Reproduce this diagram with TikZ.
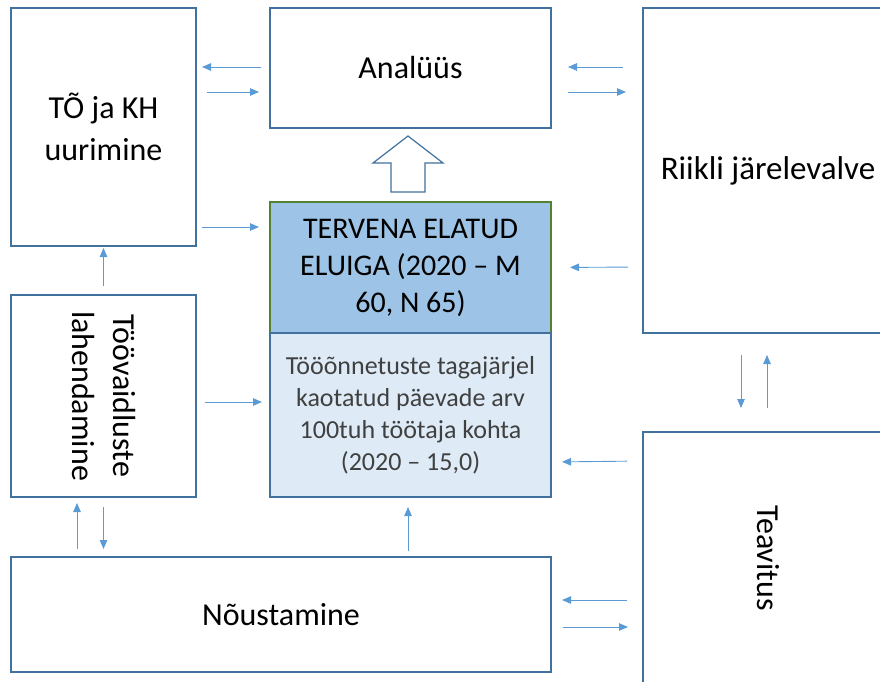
\documentclass[tikz,border=0pt]{standalone}
\usepackage{fontspec}
\setmainfont{Carlito}
\usetikzlibrary{positioning, arrows.meta}
\definecolor{boxblue}{RGB}{65,113,156}
\definecolor{flowblue}{RGB}{91,155,213}
\definecolor{goalfill}{RGB}{157,195,230}
\definecolor{goalline}{RGB}{84,130,53}
\definecolor{measfill}{RGB}{222,235,247}
\tikzset{
    boxed/.style={draw=boxblue, line width=1.2pt, fill=white, rectangle, align=center, inner sep=2pt, outer sep=0pt, font=\fontsize{32}{42}\selectfont},
    goal/.style={boxed, draw=goalline, fill=goalfill, font=\fontsize{30}{37}\selectfont},
    measure/.style={boxed, fill=measfill, text=black!75, font=\fontsize{26}{32}\selectfont},
    sidetext/.style={rotate=-90, align=center, font=\fontsize{32}{41}\selectfont},
    flow/.style={draw=flowblue, line width=0.9pt, -{Triangle[length=9pt,width=7.5pt]}},
    hollow/.style={draw=boxblue, line width=1.2pt, fill=white, line join=miter} }

\begin{document}
\begin{tikzpicture}[x=1pt, y=-1pt]
			\useasboundingbox (0,0) rectangle (880,682);
			\clip (0,0) rectangle (880,682);
			\node[boxed, anchor=north west, minimum width=185pt, minimum height=238pt] (tokh) at (11,8) {TÕ ja KH\\uurimine};
			\node[boxed, anchor=north west, minimum width=281pt, minimum height=120pt] (analyys) at (270,8) {Analüüs};
			\node[boxed, anchor=north west, minimum width=250pt, minimum height=325pt, font=\fontsize{33}{42}\selectfont] (riikli) at (643,8) {Riikli järelevalve};
			\node[goal, below=74pt of analyys, minimum width=281pt, minimum height=131pt] (tervena) {TERVENA ELATUD\\ELUIGA (2020 – M\\60, N 65)};
			\node[measure, below=0pt of tervena, minimum width=281pt, minimum height=164pt] (kaotatud) {Tööõnnetuste tagajärjel\\kaotatud päevade arv\\100tuh töötaja kohta\\(2020 – 15,0)};
			\node[boxed, below=49pt of tokh, minimum width=185pt, minimum height=202pt] (toovaidlus) {};
			\node[sidetext] (toovaidlustext) at (toovaidlus.center) {Töövaidluste\\lahendamine};
			\node[boxed, anchor=north west, minimum width=540pt, minimum height=115pt] (noustamine) at (11,557) {Nõustamine};
			\node[boxed, below=99pt of riikli, minimum width=250pt, minimum height=252pt] (teavitus) {};
			\node[sidetext] (teavitustext) at (teavitus.center) {Teavitus};
			% ----
			\path[hollow] ([xshift=-19.5pt,yshift=10pt]tervena.north) -- ++(0,-29) -- ++(-18,0) --
			++(35,-27) -- ++(35,27) -- ++(-18,0) -- ++(0,29) -- cycle;
			% ----
			\draw[flow, shorten <=9pt, shorten >=6pt] ([yshift=1pt]analyys.west) -- ([yshift=60pt]tokh.east);
			\draw[flow, shorten <=11pt, shorten >=11pt] ([yshift=35pt]tokh.east) -- ([yshift=-24pt]analyys.west);
			\draw[flow, shorten <=6pt, shorten >=11pt] ([yshift=-100pt]tokh.east) -- ([yshift=40.5pt]tervena.west);
			\draw[flow, shorten <=9pt, shorten >=2pt] (toovaidlus.north) -- (tokh.south);
			\draw[flow, shorten <=9pt, shorten >=8pt] ([yshift=-6pt]toovaidlus.east) -- ([yshift=13pt]kaotatud.west);
			\draw[flow, shorten <=8pt, shorten >=6pt] ([xshift=66pt]noustamine.north west) -- ([xshift=-26.5pt]toovaidlus.south);
			\draw[flow, shorten <=10pt, shorten >=8pt] (toovaidlus.south) -- ([xshift=92.5pt]noustamine.north west);
			\draw[flow, shorten <=6pt, shorten >=10pt] ([xshift=127pt]noustamine.north) -- ([xshift=-2.5pt]kaotatud.south);
			% ----
			\draw[flow, shorten <=20pt, shorten >=17pt] ([yshift=103.5pt]riikli.west) -- ([yshift=1pt]analyys.east);
			\draw[flow, shorten <=17pt, shorten >=17pt] ([yshift=-24pt]analyys.east) -- ([yshift=78.5pt]riikli.west);
			\draw[flow, shorten <=15pt, shorten >=19pt] ([yshift=-96.5pt]riikli.west) -- (tervena.east);
			\draw[flow, shorten <=16pt, shorten >=11pt] ([yshift=97pt]teavitus.west) -- ([yshift=-47pt]kaotatud.east);
			\draw[flow, shorten <=16pt, shorten >=11pt] ([yshift=-42pt]teavitus.west) -- ([yshift=14.5pt]noustamine.east);
			\draw[flow, shorten <=12pt, shorten >=15pt] ([yshift=-12.5pt]noustamine.east) -- ([yshift=-69pt]teavitus.west);
			\draw[flow, shorten <=22pt, shorten >=24pt] ([xshift=-27pt]riikli.south) -- ([xshift=-27pt]teavitus.north);
			\draw[flow, shorten <=24pt, shorten >=22pt] ([xshift=-1pt]teavitus.north) -- ([xshift=-1pt]riikli.south);
		\end{tikzpicture}
\end{document}
